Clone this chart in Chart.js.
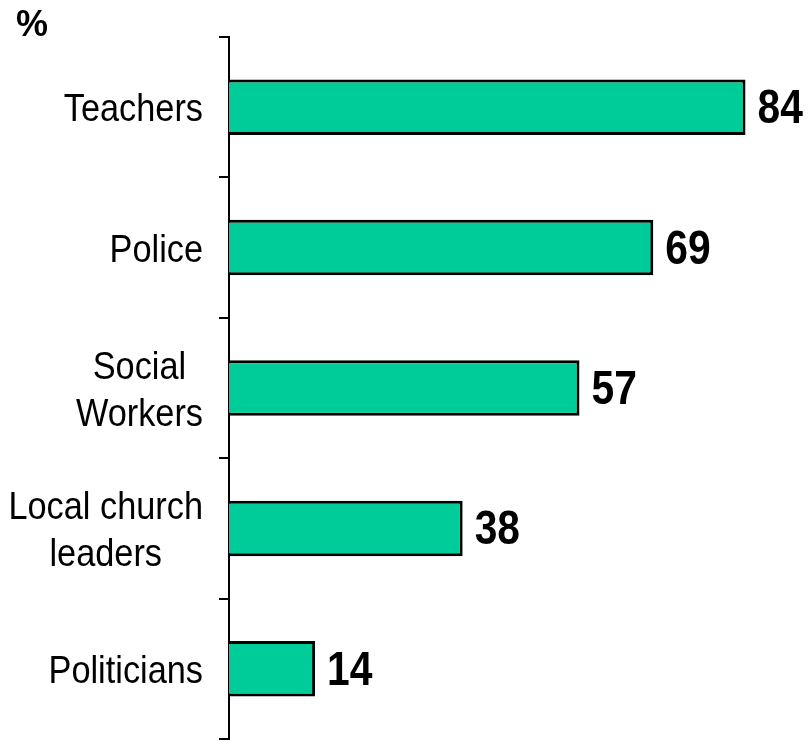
<!DOCTYPE html>
<html lang="en">
<head>
    <meta charset="UTF-8">
    <title>Trust by profession</title>
    <script src="https://cdn.jsdelivr.net/npm/chart.js"></script>
    <style>
        body {
            margin: 0;
            background-color: #fff;
        }
        .chart-container {
            position: relative;
            width: 809px;
            height: 741px;
        }
    </style>
</head>
<body>
    <div class="chart-container">
        <canvas id="trustChart"></canvas>
    </div>

    <script>
        // Categories (one array entry per line of the label) and percentages
        const categories = [
            ['Teachers'],
            ['Police'],
            ['Social', 'Workers'],
            ['Local church', 'leaders'],
            ['Politicians']
        ];
        const values = [84, 69, 57, 38, 14];
        const unitLabel = '%';

        const labelFont = '39px "Liberation Sans", Arial, sans-serif';
        const valueFont = 'bold 48px "Liberation Sans", Arial, sans-serif';
        const labelStretch = 0.88;  // narrow look, no condensed face installed
        const valueStretch = 0.85;

        // fillText squeezed horizontally around the anchor point
        function drawNarrow(ctx, text, x, y, align, sx) {
            ctx.save();
            ctx.translate(x, y);
            ctx.scale(sx, 1);
            ctx.textAlign = align;
            ctx.fillText(text, 0, 0);
            ctx.restore();
        }

        // Category names (right-aligned block, centred lines) and bar values
        const textPlugin = {
            id: 'barText',
            afterDraw(chart) {
                const ctx = chart.ctx;
                const yScale = chart.scales.y;
                const meta = chart.getDatasetMeta(0);
                const rightEdge = chart.chartArea.left - 26;
                const lineHeight = 47;

                ctx.save();
                ctx.fillStyle = '#000';
                ctx.textBaseline = 'alphabetic';

                ctx.font = labelFont;
                categories.forEach((lines, i) => {
                    const cy = yScale.getPixelForValue(i);
                    const blockWidth = Math.max(...lines.map(l => ctx.measureText(l).width)) * labelStretch;
                    const cx = rightEdge - blockWidth / 2;
                    const firstBase = cy - (lines.length - 1) * lineHeight / 2 + 14;
                    lines.forEach((line, j) => {
                        drawNarrow(ctx, line, cx, firstBase + j * lineHeight, 'center', labelStretch);
                    });
                });

                ctx.font = valueFont;
                meta.data.forEach((bar, i) => {
                    drawNarrow(ctx, String(values[i]), bar.x + 12, bar.y + 16, 'left', valueStretch);
                });

                ctx.font = 'bold 36px "Liberation Sans", Arial, sans-serif';
                ctx.textAlign = 'left';
                ctx.fillText(unitLabel, 16, 36);
                ctx.restore();
            }
        };

        new Chart(document.getElementById('trustChart'), {
            type: 'bar',
            data: {
                labels: categories.map(c => c.join(' ')),
                datasets: [{
                    data: values,
                    backgroundColor: '#00CC99',
                    borderColor: '#000',
                    borderWidth: 3,
                    borderSkipped: 'start',
                    categoryPercentage: 0.395,
                    barPercentage: 1
                }]
            },
            options: {
                indexAxis: 'y',
                responsive: true,
                maintainAspectRatio: false,
                animation: false,
                layout: {
                    padding: { left: 219, right: 2, top: 37, bottom: 2 }
                },
                scales: {
                    x: {
                        display: false,
                        min: 0,
                        max: 94
                    },
                    y: {
                        offset: true,
                        ticks: { display: false },
                        grid: {
                            offset: true,
                            drawOnChartArea: false,
                            drawTicks: true,
                            tickLength: 10,
                            color: '#000',
                            lineWidth: 2
                        },
                        border: {
                            display: true,
                            color: '#000',
                            width: 2
                        }
                    }
                },
                plugins: {
                    legend: { display: false },
                    tooltip: { enabled: false }
                }
            },
            plugins: [textPlugin]
        });
    </script>
</body>
</html>
